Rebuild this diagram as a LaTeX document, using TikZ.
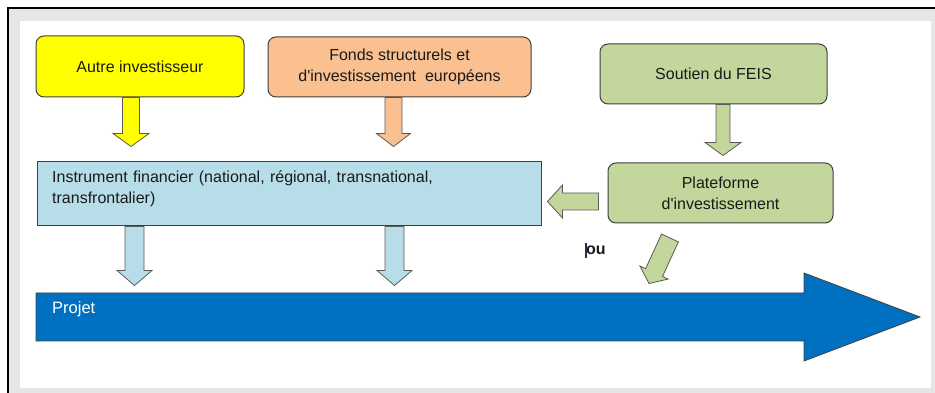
\documentclass[tikz,border=0pt]{standalone}
\usepackage{fontspec}
\setmainfont{Liberation Sans}[Ligatures=TeXOff]
\usetikzlibrary{calc}
\definecolor{cyellow}{HTML}{FFFF00}
\definecolor{corange}{HTML}{FAC090}
\definecolor{cgreen}{HTML}{C3D69B}
\definecolor{clblue}{HTML}{B7DEE8}
\definecolor{cblue}{HTML}{0070C0}
\definecolor{framegray}{HTML}{E6E6E6}
\definecolor{boxline}{HTML}{404040}
\definecolor{arrline}{HTML}{5A5A5A}
\definecolor{textdark}{HTML}{1A1A1A}
\definecolor{cursorcol}{HTML}{1F3050}
\newcommand\fatarrow[6]{% style, start, end, half shaft, half head, head length
  \path[#1] let \p1=(#2), \p2=(#3),
      \n1={atan2(\y2-\y1,\x2-\x1)}, \n2={veclen(\x2-\x1,\y2-\y1)} in
    ($(\p1)+(\n1+90:#4)$) -- ($(\p1)+(\n1:\n2-#6)+(\n1+90:#4)$)
    -- ($(\p1)+(\n1:\n2-#6)+(\n1+90:#5)$) -- (\p2)
    -- ($(\p1)+(\n1:\n2-#6)+(\n1-90:#5)$) -- ($(\p1)+(\n1:\n2-#6)+(\n1-90:#4)$)
    -- ($(\p1)+(\n1-90:#4)$) -- cycle;}
\tikzset{
  box/.style={draw=boxline, line width=1pt, rounded corners=8pt, text=textdark,
    align=center, font=\fontsize{16}{21}\selectfont, inner sep=0pt},
  fatarr/.style={fill=#1, draw=arrline, line width=0.8pt, line join=miter},
}
\begin{document}
\begin{tikzpicture}[x=1pt,y=1pt]
\useasboundingbox (0,0) rectangle (935,393);
\fill[white] (0,0) rectangle (935,393);
\fill[framegray] (8,0) rectangle (935,385);
\fill[white] (20,5) rectangle (931,372);
\draw[black, line width=1.2pt] (8,0) -- (8,385) -- (935,385);

% boxes
\node[box, fill=cyellow, minimum width=208pt, minimum height=61pt] (ai) at (140,326.5) {Autre investisseur};
\node[box, fill=corange, minimum width=263pt, minimum height=60pt] (fs) at (399.5,326) {Fonds structurels et\\d'investissement\ \ européens};
\node[box, fill=cgreen, minimum width=227pt, minimum height=60pt] (sf) at (713.5,319) {Soutien du FEIS};
\node[box, fill=cgreen, minimum width=225pt, minimum height=60pt] (pl) at (720.5,200) {Plateforme\\d'investissement};
\node[box, rounded corners=0pt, fill=clblue, minimum width=504pt, minimum height=64pt] (inst) at (289,199) {};
\node[anchor=north west, inner sep=0pt, text width=441pt, align=left, text=textdark,
  font=\fontsize{16}{21}\selectfont] (insttext) at (52,222)
  {\makebox[\linewidth][s]{Instrument financier (national, régional, transnational,}\\transfrontalier)};

% project arrow
\filldraw[fill=cblue, draw=boxline, line width=0.8pt] (36,100) -- (804,100) -- (804,120) -- (920,76) -- (804,32) -- (804,52) -- (36,52) -- cycle;
\node[anchor=base west, inner sep=0pt, text=white, font=\fontsize{16.5}{19}\selectfont] (projet) at (52,79) {Projet};

% block arrows
\fatarrow{fatarr=cyellow}{$(ai.south)+(-9,0)$}{$(ai.south)+(-9,-49)$}{8.5}{18}{13}
\fatarrow{fatarr=corange}{$(fs.south)+(-6,0)$}{$(fs.south)+(-6,-49)$}{8.5}{17}{13}
\fatarrow{fatarr=cgreen}{$(sf.south)+(9.5,0)$}{$(sf.south)+(9.5,-51)$}{7}{18}{13}
\fatarrow{fatarr=clblue}{$(inst.south)+(-154.5,0)$}{$(inst.south)+(-154.5,-59)$}{9.5}{17.5}{15}
\fatarrow{fatarr=clblue}{$(inst.south)+(105.5,0)$}{$(inst.south)+(105.5,-59)$}{9.5}{17.5}{15}
\fatarrow{fatarr=cgreen}{$(pl.west)+(-9,-8.5)$}{$(pl.west)+(-60,-8.5)$}{8.5}{16.5}{15}
\fatarrow{fatarr=cgreen}{$(pl.south)+(-50.5,-14.5)$}{$(pl.south)+(-71.5,-60)$}{9.3}{15.5}{12}

% "ou" with text cursor
\node[anchor=base west, inner sep=0pt, text=textdark, font=\fontsize{16}{18}\selectfont\bfseries] (ou) at (586,138.5) {ou};
\draw[cursorcol, line width=1.2pt] ($(ou.base west)+(0,-3.5)$) -- ($(ou.base west)+(0,11)$);
\end{tikzpicture}
\end{document}
